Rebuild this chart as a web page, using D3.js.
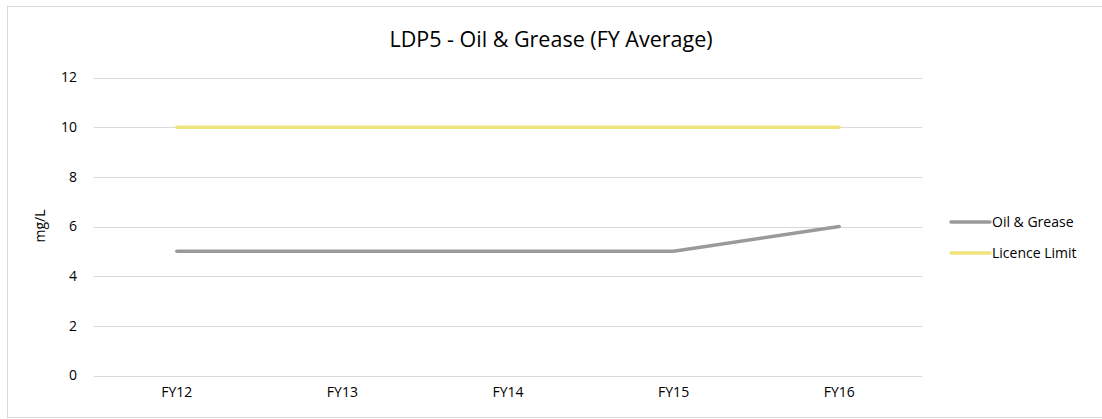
<!DOCTYPE html>
<html>
<head>
<meta charset="utf-8">
<title>LDP5 - Oil & Grease</title>
<script src="https://d3js.org/d3.v7.min.js"></script>
<style>
  body { margin: 0; background: #fff; }
  text { font-family: "Open Sans", "Liberation Sans", Arial, sans-serif; fill: #000; }
</style>
</head>
<body>
<script>
// data
var years = ["FY12", "FY13", "FY14", "FY15", "FY16"];
var oilGrease = [5, 5, 5, 5, 6];
var licenceLimit = [10, 10, 10, 10, 10];
var yTicks = [0, 2, 4, 6, 8, 10, 12];

var width = 1102, height = 419;
var margin = {top: 77.5, right: 180, bottom: 44, left: 94};
var font = "Open Sans, Liberation Sans, Arial, sans-serif";

var svg = d3.select("body").append("svg")
  .attr("width", width)
  .attr("height", height);

// outer border (right edge falls off the picture)
svg.append("rect")
  .attr("x", 7.5).attr("y", 6.5)
  .attr("width", 1100).attr("height", 411)
  .attr("fill", "#fff")
  .attr("stroke", "#d9d9d9");

var x = d3.scaleBand()
  .domain(years)
  .range([margin.left, width - margin.right]);

var y = d3.scaleLinear()
  .domain([0, 12])
  .range([375.5, margin.top]);

// gridlines
svg.append("g")
  .selectAll("line")
  .data(yTicks)
  .enter().append("line")
  .attr("x1", margin.left)
  .attr("x2", width - margin.right)
  .attr("y1", function(d) { return Math.round(y(d)) + 0.5; })
  .attr("y2", function(d) { return Math.round(y(d)) + 0.5; })
  .attr("stroke", "#d9d9d9")
  .attr("stroke-width", 1);

// y axis
var yAxis = d3.axisLeft(y).tickValues(yTicks).tickSize(0).tickPadding(0);
var gy = svg.append("g")
  .attr("transform", "translate(77,0)")
  .call(yAxis);
gy.select(".domain").remove();
gy.selectAll("text")
  .style("font-size", "14px")
  .style("font-family", font)
  .attr("fill", "#000");

// x axis
var xAxis = d3.axisBottom(x).tickSize(0).tickPadding(0);
var gx = svg.append("g")
  .attr("transform", "translate(0,387)")
  .call(xAxis);
gx.select(".domain").remove();
gx.selectAll("text")
  .style("font-size", "14px")
  .style("font-family", font)
  .attr("fill", "#000");

var line = d3.line()
  .x(function(d, i) { return x(years[i]) + x.bandwidth() / 2; })
  .y(function(d) { return y(d); });

var series = [
  {name: "Oil & Grease", values: oilGrease, color: "#999b98"},
  {name: "Licence Limit", values: licenceLimit, color: "#f0e47c"}
];

series.forEach(function(s) {
  svg.append("path")
    .datum(s.values)
    .attr("fill", "none")
    .attr("stroke", s.color)
    .attr("stroke-width", 3.5)
    .attr("stroke-linecap", "round")
    .attr("stroke-linejoin", "round")
    .attr("d", line);
});

// title
svg.append("text")
  .attr("x", 551)
  .attr("y", 47)
  .attr("text-anchor", "middle")
  .style("font-size", "21.5px")
  .text("LDP5 - Oil & Grease (FY Average)");

// y axis label
svg.append("text")
  .attr("transform", "translate(45,226) rotate(-90)")
  .attr("text-anchor", "middle")
  .style("font-size", "14px")
  .text("mg/L");

// legend
var legend = svg.append("g")
  .selectAll("g")
  .data(series)
  .enter().append("g")
  .attr("transform", function(d, i) { return "translate(951," + (222 + i * 31) + ")"; });

legend.append("line")
  .attr("x1", 0).attr("x2", 39)
  .attr("stroke", function(d) { return d.color; })
  .attr("stroke-width", 3.5)
  .attr("stroke-linecap", "round");

legend.append("text")
  .attr("x", 41)
  .attr("dy", "0.35em")
  .style("font-size", "14px")
  .text(function(d) { return d.name; });
</script>
</body>
</html>
